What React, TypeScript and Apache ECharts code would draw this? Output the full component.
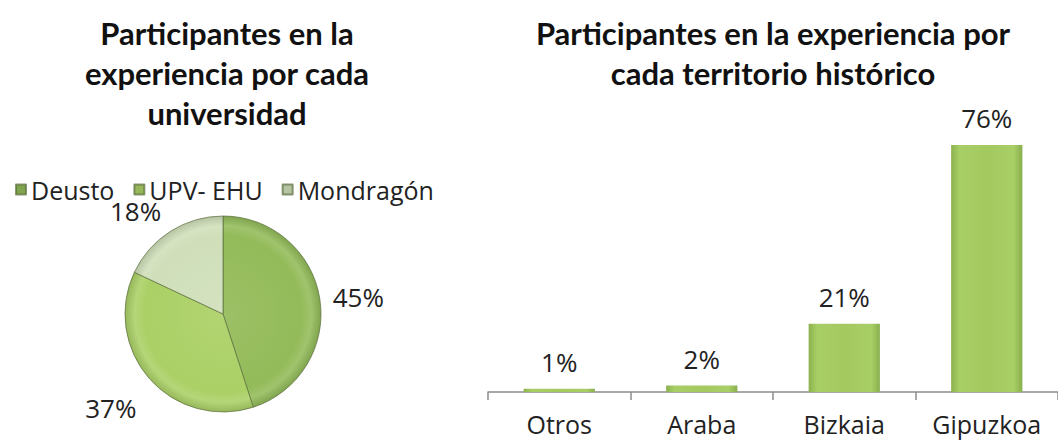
import React, { useEffect, useRef } from "react";
import * as echarts from "echarts";

const pieTitle = "Participantes en la\nexperiencia por cada\nuniversidad";
const barTitle = "Participantes en la experiencia por\ncada territorio histórico";

const universities = ["Deusto", "UPV- EHU", "Mondragón"];
const universityShares = [45, 37, 18];
const universityColors = ["#93bb59", "#abd066", "#d0dfba"];

const territories = ["Otros", "Araba", "Bizkaia", "Gipuzkoa"];
const territoryShares = [1, 2, 21, 76];

const PIE_CX = 223;
const PIE_CY = 314;
const PIE_R = 98;

function lighten(hex: string, amt: number) {
  const n = parseInt(hex.slice(1), 16);
  let r = (n >> 16) & 255, g = (n >> 8) & 255, b = n & 255;
  const f = (c: number) => Math.max(0, Math.min(255, Math.round(amt >= 0 ? c + (255 - c) * amt : c * (1 + amt))));
  r = f(r); g = f(g); b = f(b);
  return "#" + ((1 << 24) + (r << 16) + (g << 8) + b).toString(16).slice(1);
}

function pieFill(hex: string) {
  return new echarts.graphic.RadialGradient(PIE_CX, PIE_CY, PIE_R, [
    { offset: 0, color: lighten(hex, 0.08) },
    { offset: 0.8, color: hex },
    { offset: 0.9, color: lighten(hex, 0.12) },
    { offset: 1, color: lighten(hex, -0.12) },
  ], true);
}

const barFill = new echarts.graphic.LinearGradient(0, 0, 1, 0, [
  { offset: 0, color: "#8cb24f" },
  { offset: 0.12, color: "#a8ce66" },
  { offset: 0.5, color: "#a3c95f" },
  { offset: 0.88, color: "#a8ce66" },
  { offset: 1, color: "#89ae4d" },
]);

const labelDx = [0, -2, 0];
const labelDy = [0, 24, -14];

export default function App() {
  const ref = useRef<HTMLDivElement>(null);
  useEffect(() => {
    if (!ref.current) return;
    const chart = echarts.init(ref.current, null, { renderer: "svg" });
    const textFont = "'Open Sans', sans-serif";
    const titleFont = "Lato, sans-serif";
    chart.setOption({
      animation: false,
      backgroundColor: "#ffffff",
      title: [
        {
          text: pieTitle,
          left: 222,
          top: 8,
          textAlign: "center",
          textStyle: { fontFamily: titleFont, fontWeight: "bold", fontSize: 31, lineHeight: 40, color: "#111" },
        },
        {
          text: barTitle,
          left: 768,
          top: 8,
          textAlign: "center",
          textStyle: { fontFamily: titleFont, fontWeight: "bold", fontSize: 31, lineHeight: 40, color: "#111" },
        },
      ],
      legend: {
        data: universities,
        left: 10,
        top: 172,
        icon: "rect",
        itemWidth: 10,
        itemHeight: 10,
        itemGap: 19,
        textStyle: { fontFamily: textFont, fontSize: 25, color: "#222" },
      },
      grid: { left: 488, right: -8, top: 145, bottom: 48 },
      xAxis: {
        type: "category",
        data: territories,
        axisLine: { lineStyle: { color: "#8c8c8c", width: 1.5 } },
        axisTick: { show: true, length: 8, lineStyle: { color: "#8c8c8c", width: 1.5 } },
        axisLabel: { interval: 0, fontFamily: textFont, fontSize: 25, color: "#222", margin: 19, hideOverlap: false },
      },
      yAxis: { type: "value", min: 0, max: 76, show: false, splitLine: { show: false } },
      series: [
        {
          type: "pie",
          center: [PIE_CX, PIE_CY],
          radius: PIE_R,
          startAngle: 90,
          clockwise: true,
          legendHoverLink: false,
          data: universities.map((n, i) => ({
            name: n,
            value: universityShares[i],
            itemStyle: { color: pieFill(universityColors[i]) },
          })),
          itemStyle: { borderColor: "rgba(90,110,60,0.7)", borderWidth: 1 },
          label: {
            show: true,
            position: "outside",
            formatter: "{c}%",
            fontFamily: textFont,
            fontSize: 26,
            color: "#222",
          },
          labelLine: { show: false, length: 8, length2: 0 },
          labelLayout: (p: any) => ({ dx: labelDx[p.dataIndex], dy: labelDy[p.dataIndex] }),
        },
        {
          type: "bar",
          data: territoryShares,
          barWidth: "50%",
          itemStyle: { color: barFill },
          label: {
            show: true,
            position: "top",
            distance: 14,
            formatter: "{c}%",
            fontFamily: textFont,
            fontSize: 26,
            color: "#222",
          },
        },
      ],
    });
    return () => chart.dispose();
  }, []);
  return (
    <div
      ref={ref}
      style={{ position: "fixed", left: 0, top: 0, width: 1058, height: 440 }}
    />
  );
}
